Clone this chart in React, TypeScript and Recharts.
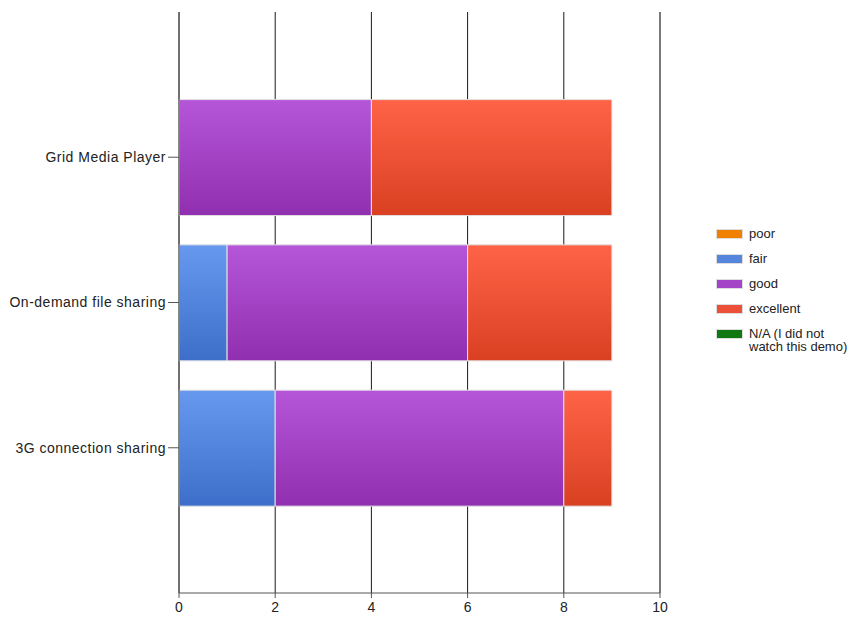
import { BarChart, Bar, XAxis, YAxis, CartesianGrid, ReferenceLine } from 'recharts'

const categories = ['Grid Media Player', 'On-demand file sharing', '3G connection sharing']
const poor = [0, 0, 0]
const fair = [0, 1, 2]
const good = [4, 5, 6]
const excellent = [5, 3, 1]
const notApplicable = [0, 0, 0]
const xTicks = [0, 2, 4, 6, 8, 10]

const series = [
  { key: 'poor', name: 'poor', values: poor, top: '#ff8c1a', bottom: '#e07000', swatch: '#f08000' },
  { key: 'fair', name: 'fair', values: fair, top: '#6699ee', bottom: '#3d6fca', swatch: '#5585dd' },
  { key: 'good', name: 'good', values: good, top: '#b555d8', bottom: '#9030b0', swatch: '#a444c6' },
  { key: 'excellent', name: 'excellent', values: excellent, top: '#ff6347', bottom: '#d94022', swatch: '#ec5038' },
  { key: 'na', name: 'N/A (I did not watch this demo)', values: notApplicable, top: '#1a881a', bottom: '#0a660a', swatch: '#117711' },
]

const data = categories.map((name, i) => {
  const row: Record<string, string | number> = { name }
  series.forEach((s) => {
    row[s.key] = s.values[i]
  })
  return row
})

const font = '"Liberation Sans", Arial, sans-serif'

function LegendBox() {
  return (
    <div
      style={{
        position: 'absolute',
        left: 716,
        top: 227,
        fontFamily: font,
        fontSize: 13,
        color: '#222',
      }}
    >
      {series.map((s) => (
        <div key={s.key} style={{ display: 'flex', alignItems: 'flex-start', height: s.key === 'na' ? 30 : 25 }}>
          <div
            style={{
              width: 25,
              height: 8,
              background: s.swatch,
              border: '1px solid #ddd',
              marginTop: 2,
              marginRight: 6,
              flexShrink: 0,
            }}
          />
          <div style={{ width: 104, lineHeight: '13px' }}>{s.name}</div>
        </div>
      ))}
    </div>
  )
}

export default function App() {
  return (
    <div style={{ position: 'absolute', left: 0, top: 0, width: 848, height: 621, background: '#fff' }}>
      <BarChart
        width={848}
        height={621}
        data={data}
        layout="vertical"
        margin={{ top: 12, right: 188, bottom: 0, left: 0 }}
      >
        <defs>
          {series.map((s) => (
            <linearGradient key={s.key} id={`grad-${s.key}`} x1="0" y1="0" x2="0" y2="1">
              <stop offset="0%" stopColor={s.top} />
              <stop offset="100%" stopColor={s.bottom} />
            </linearGradient>
          ))}
        </defs>
        <CartesianGrid horizontal={false} stroke="#000" strokeOpacity={0.9} />
        <XAxis
          type="number"
          domain={[0, 10]}
          ticks={xTicks}
          height={28}
          tickSize={5}
          stroke="#555"
          tick={{ fill: '#222', fontSize: 14, fontFamily: font, dy: 2 }}
          interval={0}
        />
        <YAxis
          type="category"
          dataKey="name"
          width={179}
          tickSize={11}
          stroke="#555"
          padding={{ top: 72.6, bottom: 72.6 }}
          tick={{ fill: '#222', fontSize: 14, fontFamily: font, letterSpacing: 0.5 }}
        />
        <ReferenceLine x={10} stroke="#666" />
        {series.map((s) => (
          <Bar
            key={s.key}
            dataKey={s.key}
            name={s.name}
            stackId="a"
            barSize={116}
            fill={`url(#grad-${s.key})`}
            stroke="#e2e2e2"
            strokeWidth={1}
            isAnimationActive={false}
          />
        ))}
      </BarChart>
      <LegendBox />
    </div>
  )
}
